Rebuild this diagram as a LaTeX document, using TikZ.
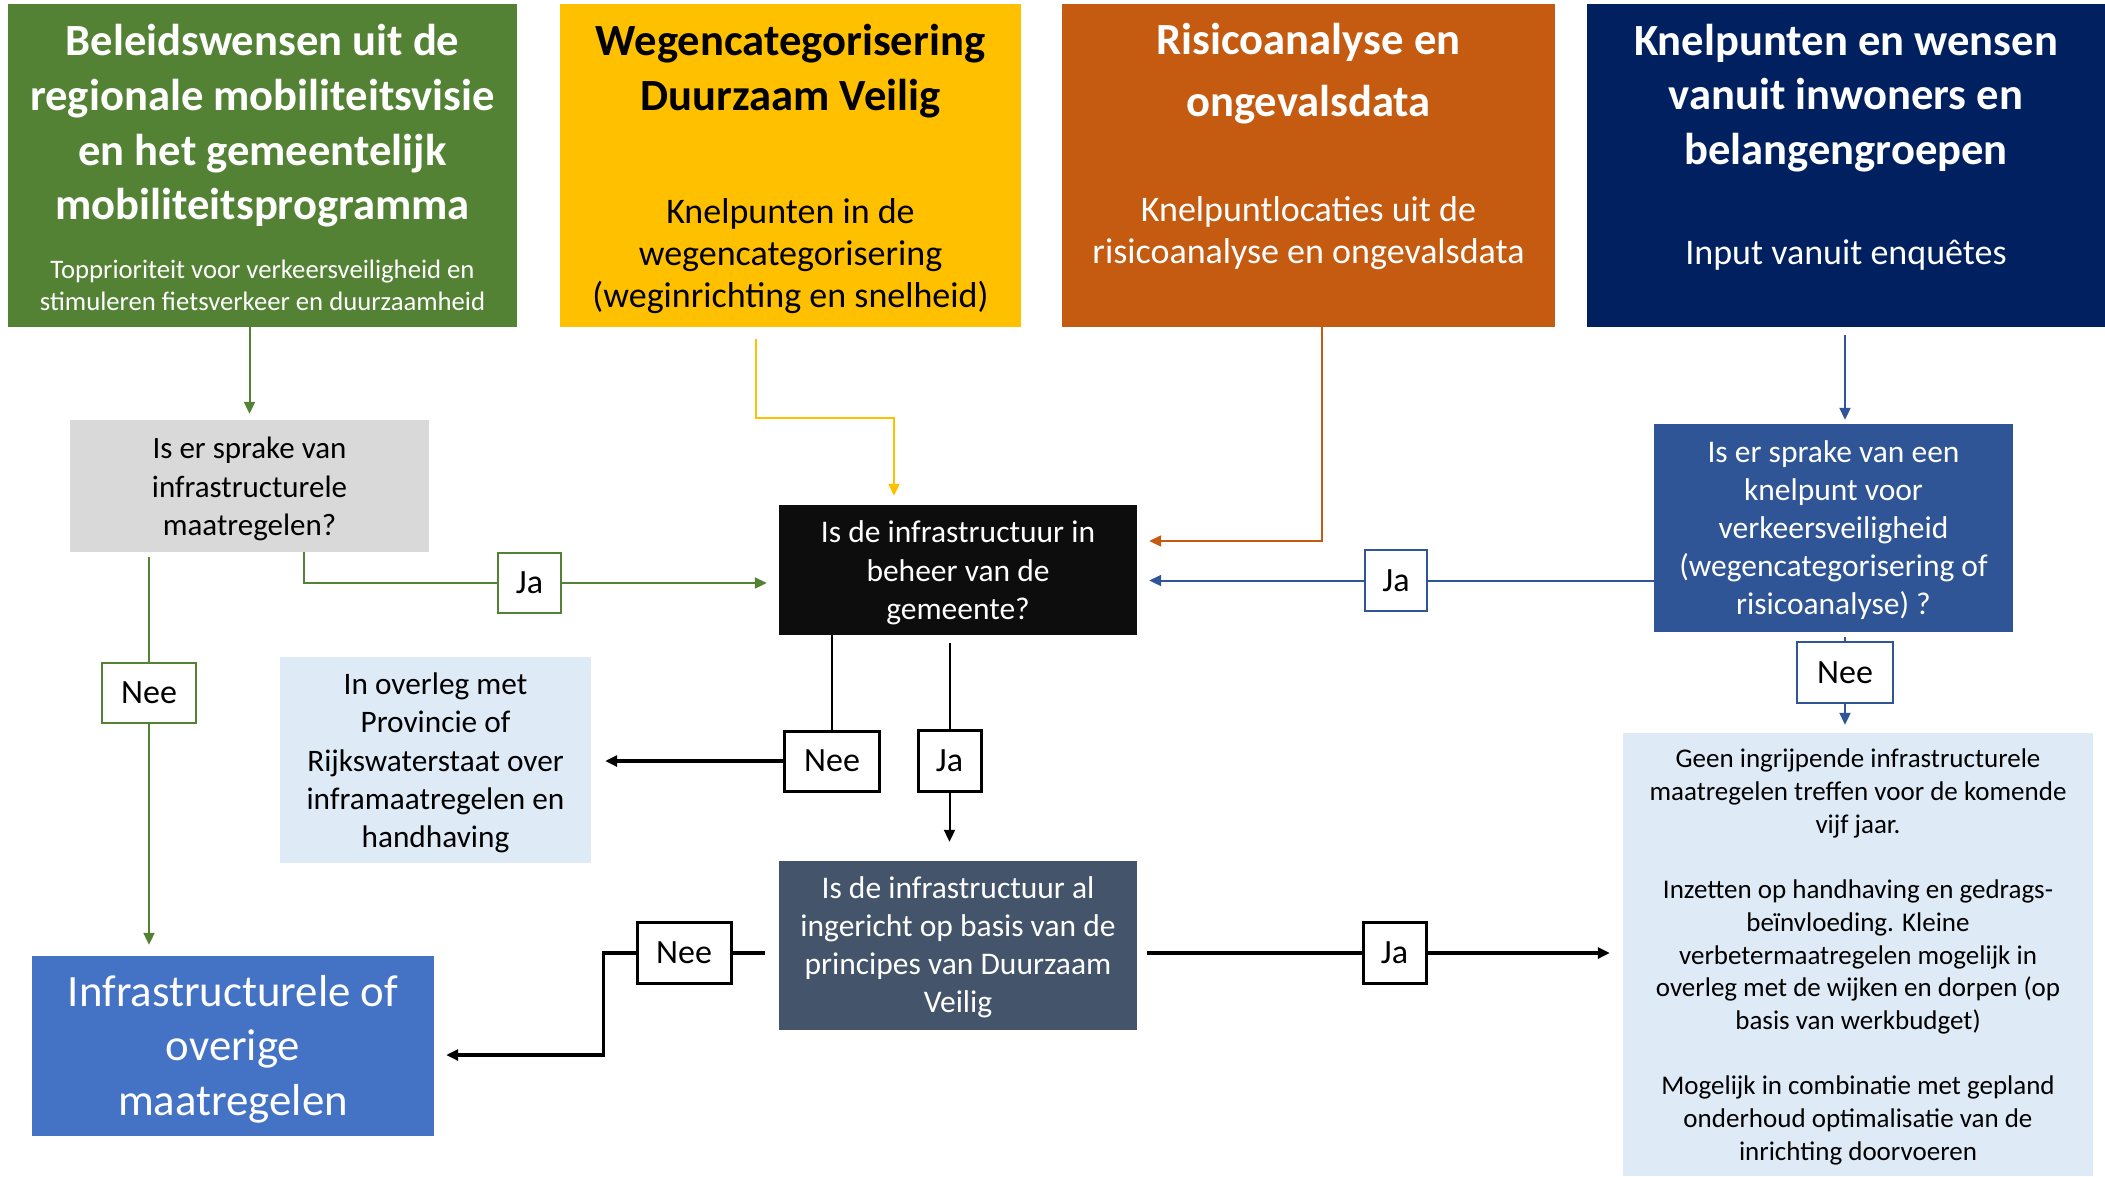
\documentclass[tikz,border=0pt]{standalone}
\usepackage{fontspec}
\setmainfont{Carlito}
\usetikzlibrary{arrows.meta}
\newcommand\myfs[2]{\fontsize{#1}{#2}\selectfont}
\definecolor{cgreen}{HTML}{548235}
\definecolor{cyellow}{HTML}{FFC000}
\definecolor{corange}{HTML}{C55A11}
\definecolor{cnavy}{HTML}{002060}
\definecolor{cgray}{HTML}{D9D9D9}
\definecolor{cblack}{HTML}{0D0D0D}
\definecolor{cblue}{HTML}{2F5597}
\definecolor{cslate}{HTML}{44546A}
\definecolor{clight}{HTML}{DEEBF7}
\definecolor{cres}{HTML}{4472C4}
\begin{document}
\begin{tikzpicture}[x=1pt,y=-1pt,
  fbox/.style={rectangle, inner sep=0pt},
  txt/.style={inner sep=0pt, align=center},
  ttl/.style={inner sep=0pt, align=center, font=\bfseries\myfs{44.6}{54.6}},
  lbl/.style={rectangle, fill=white, draw=#1, line width=2.5pt, inner sep=0pt, font=\myfs{34}{40}, text=black},
  thin/.style={line width=2pt},
  thick/.style={line width=3.2pt},
  arr/.style={-{Triangle[length=12pt,width=11pt]}}
]
\fill[white] (0,0) rectangle (2105,1176);
\useasboundingbox (0,0) rectangle (2105,1176);

% ---------- top boxes ----------
\node[fbox, fill=cgreen, minimum width=509pt, minimum height=323pt] (gbox) at (262.5,165.5) {};
\node[fbox, fill=cyellow, minimum width=461pt, minimum height=323pt] (ybox) at (790.5,165.5) {};
\node[fbox, fill=corange, minimum width=493pt, minimum height=323pt] (obox) at (1308.5,165.5) {};
\node[fbox, fill=cnavy, minimum width=518pt, minimum height=323pt] (nbox) at (1846,165.5) {};

\node[ttl, text=white] (gtitle) at (262.5,126) {Beleidswensen uit de\\regionale mobiliteitsvisie\\en het gemeentelijk\\mobiliteitsprogramma};
\node[txt, text=white, font=\myfs{26.7}{32.2}] (gsub) at (262.5,285) {Topprioriteit voor verkeersveiligheid en\\stimuleren fietsverkeer en duurzaamheid};

\node[ttl, text=black] (ytitle) at (790.5,71) {Wegencategorisering\\Duurzaam Veilig};
\node[txt, text=black, font=\myfs{36}{42.2}] (ysub) at (790.5,256) {Knelpunten in de\\wegencategorisering\\(weginrichting en snelheid)};

\node[ttl, text=white, font=\bfseries\myfs{44.6}{62}] (otitle) at (1308.5,74) {Risicoanalyse en\\ongevalsdata};
\node[txt, text=white, font=\myfs{36}{42.2}] (osub) at (1308.5,233) {Knelpuntlocaties uit de\\risicoanalyse en ongevalsdata};

\node[ttl, text=white] (ntitle) at (1846,98) {Knelpunten en wensen\\vanuit inwoners en\\belangengroepen};
\node[txt, text=white, font=\myfs{36}{42.2}] (nsub) at (1846,255) {Input vanuit enquêtes};

% ---------- middle and lower boxes ----------
\node[fbox, fill=cgray, minimum width=359pt, minimum height=132pt] (grayq) at (249.5,486) {};
\node[txt, font=\myfs{31}{38.5}] (grayqT) at ([yshift=-3pt]grayq.center) {Is er sprake van\\infrastructurele\\maatregelen?};

\node[fbox, fill=cblack, minimum width=358pt, minimum height=130pt] (blkq) at (958,570) {};
\node[txt, text=white, font=\myfs{31.5}{38.3}] (blkqT) at ([yshift=-3pt]blkq.center) {Is de infrastructuur in\\beheer van de\\gemeente?};

\node[fbox, fill=cblue, minimum width=359pt, minimum height=208pt] (bq) at (1833.5,528) {};
\node[txt, text=white, font=\myfs{31.5}{38}] (bqT) at ([yshift=-2pt]bq.center) {Is er sprake van een\\knelpunt voor\\verkeersveiligheid\\(wegencategorisering of\\risicoanalyse) ?};

\node[fbox, fill=clight, minimum width=311pt, minimum height=206pt] (lb1) at (435.5,760) {};
\node[txt, font=\myfs{31.3}{38.3}] (lb1T) at ([yshift=-3pt]lb1.center) {In overleg met\\Provincie of\\Rijkswaterstaat over\\inframaatregelen en\\handhaving};

\node[fbox, fill=cslate, minimum width=358pt, minimum height=169pt] (slate) at (958,945.5) {};
\node[txt, text=white, font=\myfs{31.5}{38}] (slateT) at ([yshift=-2pt]slate.center) {Is de infrastructuur al\\ingericht op basis van de\\principes van Duurzaam\\Veilig};

\node[fbox, fill=cres, minimum width=402pt, minimum height=180pt] (bres) at (233,1046) {};
\node[txt, text=white, font=\myfs{44.8}{54.4}] (bresT) at ([yshift=-3pt]bres.center) {Infrastructurele of\\overige\\maatregelen};

\node[fbox, fill=clight, minimum width=470pt, minimum height=443pt] (lb2) at (1858,954.5) {};
\node[txt, font=\myfs{27}{32.7}] (lb2T) at ([yshift=-2.5pt]lb2.center) {Geen ingrijpende infrastructurele\\maatregelen treffen voor de komende\\vijf jaar.\\[32.7pt]Inzetten op handhaving en gedrags-\\beïnvloeding. Kleine\\verbetermaatregelen mogelijk in\\overleg met de wijken en dorpen (op\\basis van werkbudget)\\[32.7pt]Mogelijk in combinatie met gepland\\onderhoud optimalisatie van de\\inrichting doorvoeren};

% ---------- labels ----------
\node[lbl=cgreen, minimum width=63pt, minimum height=60pt] (jaG) at (529.5,583) {\raisebox{-2.5pt}{Ja}};
\node[lbl=cgreen, minimum width=94pt, minimum height=60pt] (neeG) at (149,693) {\raisebox{-2.5pt}{Nee}};
\node[lbl=black, line width=3pt, minimum width=95pt, minimum height=60pt] (neeK1) at (832,761) {\raisebox{-2.5pt}{Nee}};
\node[lbl=black, line width=3pt, minimum width=63pt, minimum height=61pt] (jaK1) at (949.5,761) {\raisebox{-2.5pt}{Ja}};
\node[lbl=cblue, minimum width=62pt, minimum height=61pt] (jaB) at (1396,580.5) {\raisebox{-2.5pt}{Ja}};
\node[lbl=cblue, minimum width=96pt, minimum height=61pt] (neeB) at (1845,672.5) {\raisebox{-2.5pt}{Nee}};
\node[lbl=black, line width=3pt, minimum width=94pt, minimum height=61pt] (neeK2) at (684,953) {\raisebox{-2.5pt}{Nee}};
\node[lbl=black, line width=3pt, minimum width=63pt, minimum height=61pt] (jaK2) at (1394.5,953) {\raisebox{-2.5pt}{Ja}};

% ---------- helper coordinates ----------
\coordinate (cx2) at (304,0);
\coordinate (cy1) at (756,418);
\coordinate (cy2) at (894,0);
\coordinate (co) at (1322,541);
\coordinate (cb) at (603.5,1055);

% ---------- connectors ----------
% green
\draw[thin, cgreen, arr, shorten >=6pt] (gbox.south -| grayq.north) -- (grayq.north);
\draw[thin, cgreen] (grayq.south -| cx2) |- (jaG.west);
\draw[thin, cgreen, arr, shorten >=12pt] (jaG.east) -- (blkq.west |- jaG);
\draw[thin, cgreen, shorten <=5pt] (grayq.south -| neeG) -- (neeG.north);
\draw[thin, cgreen, arr, shorten >=11pt] (neeG.south) -- (bres.north -| neeG);
% yellow
\draw[thin, cyellow, arr, shorten <=12pt, shorten >=9pt] (ybox.south -| cy1) -- (cy1) -| (blkq.north -| cy2);
% orange
\draw[thin, corange, arr, shorten >=12pt] (obox.south -| co) -- (co) -- (blkq.east |- co);
% navy / blue
\draw[thin, cblue, arr, shorten <=8pt, shorten >=4pt] (nbox.south -| neeB) -- (bq.north -| neeB);
\draw[thin, cblue] (bq.west |- jaB) -- (jaB.east);
\draw[thin, cblue, arr, shorten >=12pt] (jaB.west) -- (blkq.east |- jaB);
\draw[thin, cblue, shorten <=5pt] (bq.south -| neeB) -- (neeB.north);
\draw[thin, cblue, arr, shorten >=8pt] (neeB.south) -- (lb2.north -| neeB);
% black
\draw[thin, black] (blkq.south -| neeK1) -- (neeK1.north);
\draw[thick, black, arr, shorten >=14pt] (neeK1.west) -- (lb1.east |- neeK1);
\draw[thin, black, shorten <=8pt] (blkq.south -| jaK1) -- (jaK1.north);
\draw[thin, black, arr, shorten >=19pt] (jaK1.south) -- (slate.north -| jaK1);
\draw[thick, black, shorten <=14pt] (slate.west |- neeK2) -- (neeK2.east);
\draw[thick, black, arr, shorten >=12pt] (neeK2.west) -| (cb) -- (bres.east |- cb);
\draw[thick, black, shorten <=10pt] (slate.east |- jaK2) -- (jaK2.west);
\draw[thick, black, arr, shorten >=13pt] (jaK2.east) -- (lb2.west |- jaK2);
\end{tikzpicture}
\end{document}
